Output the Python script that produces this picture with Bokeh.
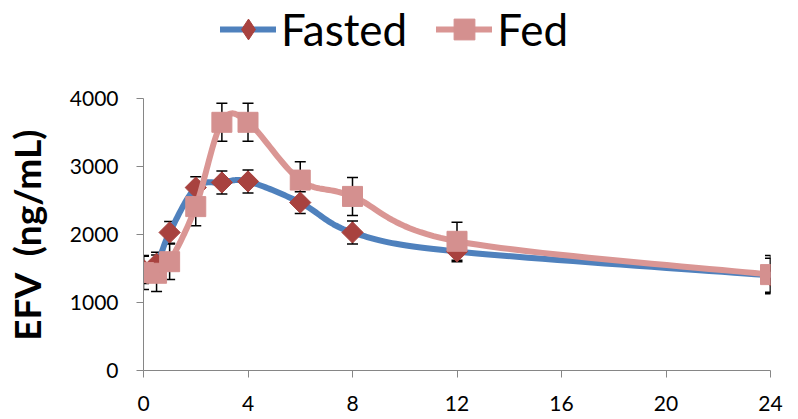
import math
from bokeh.plotting import figure
from bokeh.layouts import column
from bokeh.models import (ColumnDataSource, Whisker, TeeHead, Legend, LegendItem,
                          FixedTicker, Range1d)
from bokeh.embed import file_html
from bokeh.resources import INLINE

# ---- data ----
time_h = [0, 0.5, 1, 2, 3, 4, 6, 8, 12, 24]
fasted = [1480, 1570, 2030, 2690, 2765, 2780, 2470, 2030, 1750, 1400]
fasted_err = [200, 170, 160, 160, 170, 170, 160, 170, 150, 250]
fed = [1440, 1430, 1600, 2410, 3650, 3650, 2800, 2560, 1900, 1410]
fed_err = [250, 270, 260, 280, 280, 280, 270, 280, 280, 280]
x_ticks = [0, 4, 8, 12, 16, 20, 24]
y_ticks = [0, 1000, 2000, 3000, 4000]
series_names = ["Fasted", "Fed"]
y_label = "EFV \u00a0(ng/mL)"

BLUE, DRED, PINK, PSQ = "#4F81BD", "#A8423F", "#DA9694", "#D4908F"
NAN = float("nan")


def smooth(xs, ys, n=24):
    """Excel-style smoothed line (cubic Bezier through the points)."""
    pts = list(zip(xs, ys))
    ox, oy = [pts[0][0]], [pts[0][1]]
    for i in range(len(pts) - 1):
        p0 = pts[i - 1] if i > 0 else pts[i]
        p1 = pts[i]
        p2 = pts[i + 1]
        p3 = pts[i + 2] if i + 2 < len(pts) else pts[i + 1]
        c1 = (p1[0] + (p2[0] - p0[0]) / 6, p1[1] + (p2[1] - p0[1]) / 6)
        c2 = (p2[0] - (p3[0] - p1[0]) / 6, p2[1] - (p3[1] - p1[1]) / 6)
        for k in range(1, n + 1):
            t = k / n
            a = (1 - t) ** 3
            b = 3 * (1 - t) ** 2 * t
            c = 3 * (1 - t) * t ** 2
            d = t ** 3
            ox.append(a * p1[0] + b * c1[0] + c * c2[0] + d * p2[0])
            oy.append(a * p1[1] + b * c1[1] + c * c2[1] + d * p2[1])
    return ox, oy


# ---------- main chart ----------
p = figure(width=798, height=341, output_backend="svg", toolbar_location=None,
           x_range=Range1d(0, 24), y_range=Range1d(0, 4000),
           min_border_left=138, min_border_right=28,
           min_border_top=20, min_border_bottom=49)
p.outline_line_color = None
p.grid.visible = False
p.background_fill_color = "white"
p.border_fill_color = "white"

AX = "#868686"
for ax in (p.xaxis[0], p.yaxis[0]):
    ax.axis_line_color = AX
    ax.axis_line_width = 1
    ax.major_tick_line_color = AX
    ax.major_tick_out = 7
    ax.major_tick_in = 0
    ax.minor_tick_line_color = None
    ax.major_label_text_font = "Lato"
    ax.major_label_text_font_size = "21px"
    ax.major_label_text_color = "black"
p.xaxis.ticker = FixedTicker(ticks=x_ticks)
p.yaxis.ticker = FixedTicker(ticks=y_ticks)
p.xaxis.major_label_standoff = 18
p.yaxis.major_label_standoff = 18
p.yaxis.axis_label = y_label
p.yaxis.axis_label_text_font = "Lato"
p.yaxis.axis_label_text_font_style = "bold"
p.yaxis.axis_label_text_font_size = "37px"
p.yaxis.axis_label_text_color = "black"
p.yaxis.axis_label_standoff = 18

# error bars (drawn beneath the markers)
for vals, errs in ((fasted, fasted_err), (fed, fed_err)):
    src = ColumnDataSource(dict(x=time_h,
                                upper=[v + e for v, e in zip(vals, errs)],
                                lower=[v - e for v, e in zip(vals, errs)]))
    w = Whisker(base="x", upper="upper", lower="lower", source=src,
                level="underlay", line_color="black", line_width=1.5,
                upper_head=TeeHead(size=11, line_color="black", line_width=1.5),
                lower_head=TeeHead(size=11, line_color="black", line_width=1.5))
    p.add_layout(w)

fx, fy = smooth(time_h, fasted)
p.line(fx, fy, line_color=BLUE, line_width=6, line_cap="round", line_join="round")
p.scatter(time_h, fasted, marker="square", angle=math.pi / 4, size=15,
          fill_color=DRED, line_color=DRED)

gx, gy = smooth(time_h, fed)
p.line(gx, gy, line_color=PINK, line_width=6, line_cap="round", line_join="round")
p.scatter(time_h, fed, marker="square", size=20, fill_color=PSQ, line_color=PSQ)

# ---------- legend strip on top ----------
lg = figure(width=798, height=78, output_backend="svg", toolbar_location=None,
            x_range=Range1d(0, 1), y_range=Range1d(0, 1),
            x_axis_location=None, y_axis_location=None,
            min_border_left=0, min_border_right=0,
            min_border_top=0, min_border_bottom=0)
lg.outline_line_color = None
lg.grid.visible = False
lg.border_fill_color = "white"
ll1 = lg.line([NAN], [NAN], line_color=BLUE, line_width=6, line_cap="round")
ls1 = lg.scatter([NAN], [NAN], marker="diamond", size=26, fill_color=DRED,
                 line_color=DRED)
ll2 = lg.line([NAN], [NAN], line_color=PINK, line_width=6, line_cap="round")
ls2 = lg.scatter([NAN], [NAN], marker="square", size=20, fill_color=PSQ,
                 line_color=PSQ)

legend = Legend(items=[LegendItem(label=series_names[0], renderers=[ll1, ls1]),
                       LegendItem(label=series_names[1], renderers=[ll2, ls2])],
                orientation="horizontal", location=(77, 23),
                label_text_font="Lato", label_text_font_size="44px",
                label_text_color="black", glyph_width=56, glyph_height=52,
                label_standoff=5, spacing=29, padding=0, margin=0,
                border_line_color=None, background_fill_alpha=0)
lg.add_layout(legend)

open("out.html", "w").write(file_html(column(lg, p, spacing=0), INLINE))
